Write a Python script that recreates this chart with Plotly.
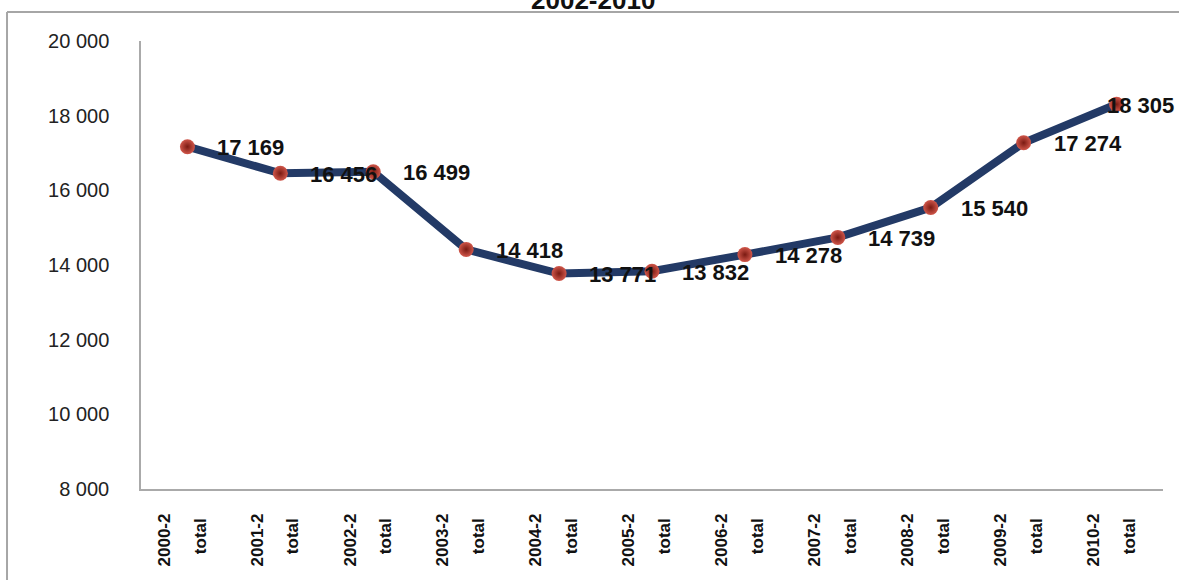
import plotly.graph_objects as go

# Period codes and yearly totals
periods = ["2000-2", "2001-2", "2002-2", "2003-2", "2004-2", "2005-2",
           "2006-2", "2007-2", "2008-2", "2009-2", "2010-2"]
sub_label = "total"
totals = [17169, 16456, 16499, 14418, 13771, 13832, 14278, 14739, 15540, 17274, 18305]

y_ticks = [8000, 10000, 12000, 14000, 16000, 18000, 20000]
title_text = "2002-2010"


def spaced(n):
    return f"{n:,}".replace(",", " ")


xs = list(range(len(periods)))

fig = go.Figure()
fig.add_trace(go.Scatter(
    x=xs, y=totals, mode="lines+markers",
    line=dict(color="#233A66", width=8),
    marker=dict(size=15, color="#D0564A",
                gradient=dict(type="radial", color="#7A1A12"),
                line=dict(width=0)),
    hoverinfo="skip", showlegend=False,
))

# Two rotated labels per period: the code and the word "total"
tickvals, ticktext = [], []
for i, p in enumerate(periods):
    tickvals += [i - 0.25, i + 0.135]
    ticktext += [p, sub_label + "\u00a0"]

annotations = []
for i, v in enumerate(totals):
    last = i == len(totals) - 1
    annotations.append(dict(
        x=i, y=v, xref="x", yref="y", text=f"<b>{spaced(v)}</b>", showarrow=False,
        xanchor="left", yanchor="middle",
        xshift=-12 if last else 28, yshift=-1,
        font=dict(family="Liberation Sans", size=22, color="#111111"),
    ))

annotations.append(dict(
    x=0.4423, y=1.092, xref="paper", yref="paper", text=f"<b>{title_text}</b>",
    showarrow=False, xanchor="center", yanchor="middle",
    font=dict(family="Liberation Sans", size=26, color="#111111"),
))

fig.update_layout(
    width=1179, height=580,
    margin=dict(l=141, r=16, t=41, b=91),
    paper_bgcolor="white", plot_bgcolor="white",
    separators=", ",
    annotations=annotations,
    shapes=[
        dict(type="line", xref="paper", yref="paper",
             x0=-0.1311, x1=-0.1311, y0=-0.3, y1=1.0647,
             line=dict(color="#A6A6A6", width=2)),
        dict(type="line", xref="paper", yref="paper",
             x0=-0.1311, x1=1.1, y0=1.0647, y1=1.0647,
             line=dict(color="#A6A6A6", width=2)),
    ],
)

fig.update_xaxes(
    range=[-0.5, 10.5], tickmode="array", tickvals=tickvals, ticktext=ticktext,
    tickangle=-90, ticks="", showgrid=False, zeroline=False,
    showline=True, linecolor="#AAAAAA", linewidth=1.5,
    ticklabelstandoff=16,
    tickfont=dict(family="Liberation Sans", size=17, color="#111111", weight="bold"),
)
fig.update_yaxes(
    range=[8000, 20000], tickmode="array", tickvals=y_ticks,
    ticktext=[spaced(t) for t in y_ticks],
    ticks="", showgrid=False, zeroline=False,
    showline=True, linecolor="#AAAAAA", linewidth=1.5,
    ticklabelstandoff=26,
    tickfont=dict(family="Liberation Sans", size=20, color="#222222"),
)

fig.write_html("out.html")
